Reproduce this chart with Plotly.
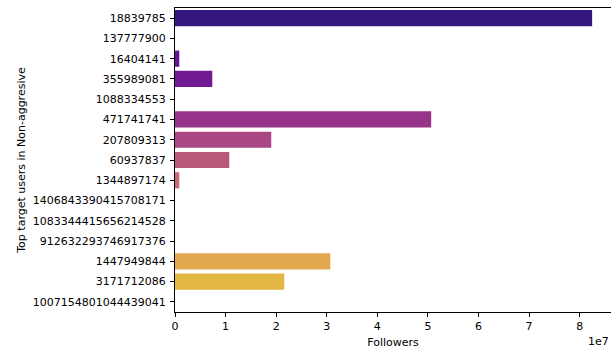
import colorsys
import plotly.graph_objects as go
from plotly.colors import sample_colorscale, unlabel_rgb

# Top target users (account IDs) and their follower counts
users = [
    "18839785", "137777900", "16404141", "355989081", "1088334553",
    "471741741", "207809313", "60937837", "1344897174",
    "1406843390415708171", "1083344415656214528", "912632293746917376",
    "1447949844", "3171712086", "1007154801044439041",
]
followers = [
    82_470_000, 0, 850_000, 7_370_000, 0,
    50_650_000, 19_030_000, 10_730_000, 850_000,
    0, 0, 0,
    30_700_000, 21_600_000, 0,
]
x_tick_vals = [0, 1e7, 2e7, 3e7, 4e7, 5e7, 6e7, 7e7, 8e7]
x_tick_text = ["0", "1", "2", "3", "4", "5", "6", "7", "8"]


def desaturate(rgb_str, prop=0.75):
    r, g, b = [c / 255 for c in unlabel_rgb(rgb_str)]
    h, l, s = colorsys.rgb_to_hls(r, g, b)
    r, g, b = colorsys.hls_to_rgb(h, l, s * prop)
    return f"rgb({round(r*255)},{round(g*255)},{round(b*255)})"


n = len(users)
palette = sample_colorscale("Plasma", [(i + 1) / (n + 1) for i in range(n)])
colors = [desaturate(c) for c in palette]

font = dict(family="DejaVu Sans", size=11, color="black")

fig = go.Figure(
    go.Bar(
        x=followers,
        y=users,
        orientation="h",
        marker=dict(color=colors, line=dict(width=0)),
        width=0.8,
        hoverinfo="x+y",
    )
)

fig.update_layout(
    width=611,
    height=349,
    margin=dict(l=175, r=0, t=8, b=37),
    paper_bgcolor="white",
    plot_bgcolor="white",
    font=font,
    showlegend=False,
    bargap=0.2,
)

fig.update_xaxes(
    range=[0, 8.62e7],
    tickvals=x_tick_vals,
    ticktext=x_tick_text,
    ticks="outside",
    ticklen=4,
    tickwidth=1,
    tickcolor="black",
    showline=True,
    linecolor="black",
    linewidth=1,
    mirror=True,
    showgrid=False,
    zeroline=False,
    title=dict(text="Followers", font=font, standoff=6),
    tickfont=font,
)

fig.update_yaxes(
    type="category",
    categoryorder="array",
    categoryarray=users,
    range=[n - 0.5, -0.5],
    ticks="outside",
    ticklen=4,
    tickwidth=1,
    tickcolor="black",
    ticklabelstandoff=2,
    showline=True,
    linecolor="black",
    linewidth=1,
    showgrid=False,
    zeroline=False,
    title=dict(text="Top target users in Non-aggresive", font=font, standoff=4),
    tickfont=font,
)

# Offset/exponent label for the x axis
fig.add_annotation(
    text="1e7",
    xref="paper",
    yref="paper",
    x=1,
    y=0,
    xanchor="right",
    yanchor="top",
    yshift=-21,
    showarrow=False,
    font=font,
)

fig.write_html("out.html")
